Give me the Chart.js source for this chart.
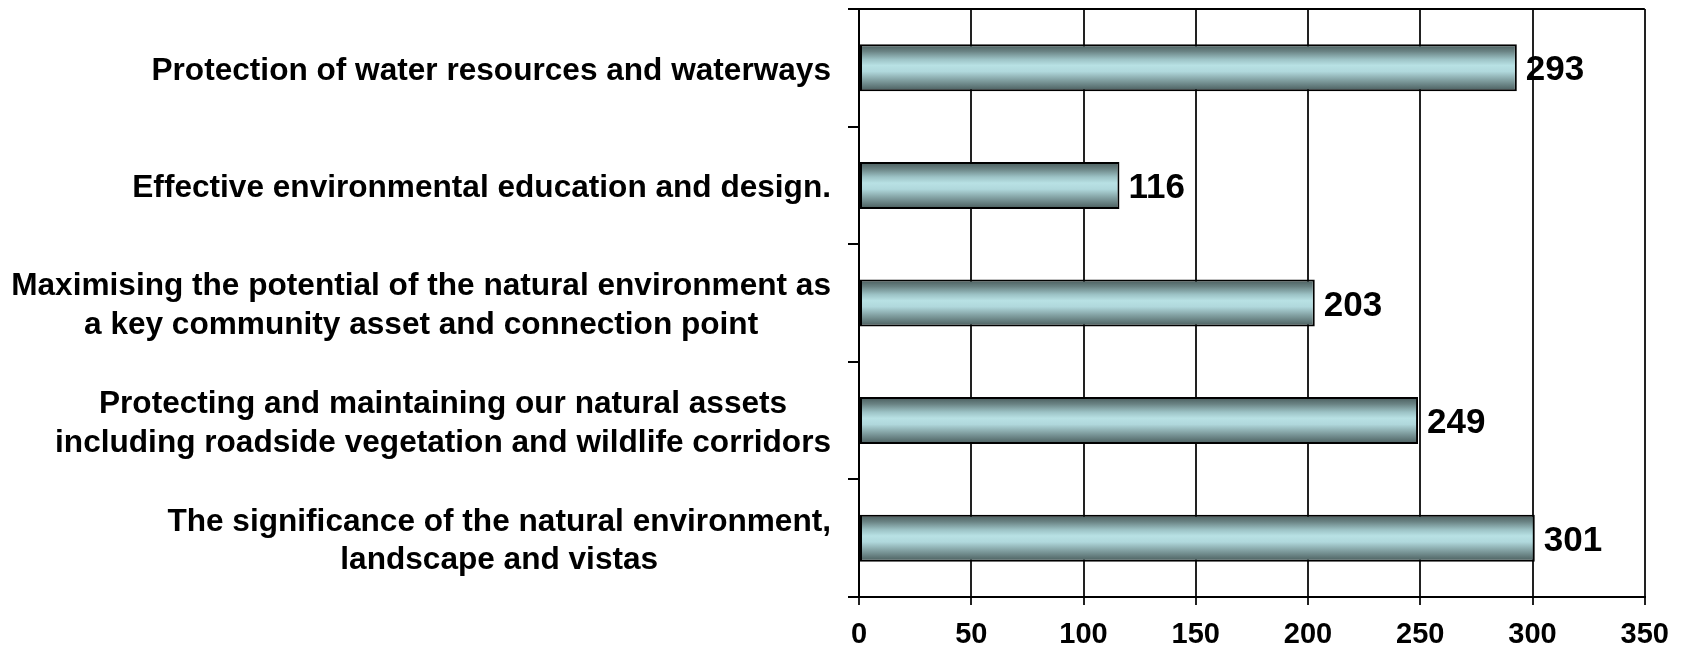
<!DOCTYPE html>
<html>
<head>
<meta charset="utf-8">
<script src="https://cdn.jsdelivr.net/npm/chart.js@4.4.1/dist/chart.umd.min.js"></script>
<style>
  html, body { margin: 0; padding: 0; background: #ffffff; }
  #wrap { width: 1682px; height: 650px; }
</style>
</head>
<body>
<div id="wrap"><canvas id="c" width="1682" height="650"></canvas></div>
<script>
const categories = [
  ["Protection of water resources and waterways"],
  ["Effective environmental education and design."],
  ["Maximising the potential of the natural environment as", "a key community asset and connection point"],
  ["Protecting and maintaining our natural assets", "including roadside vegetation and wildlife corridors"],
  ["The significance of the natural environment,", "landscape and vistas"]
];
const values = [293, 116, 203, 249, 301];
const xTicks = [0, 50, 100, 150, 200, 250, 300, 350];

const FONT = "'Liberation Sans', Arial, Helvetica, sans-serif";

function barGradient(ctx) {
  const chart = ctx.chart;
  const ys = chart.scales.y;
  if (!chart.chartArea || !ys || ctx.dataIndex === undefined) return '#b5dfe2';
  const center = ys.getPixelForValue(ctx.dataIndex);
  const half = (ys.height / categories.length) * 0.4 / 2;
  const g = chart.ctx.createLinearGradient(0, center - half, 0, center + half);
  g.addColorStop(0.00, '#475a5a');
  g.addColorStop(0.15, '#6a8384');
  g.addColorStop(0.32, '#9cc2c5');
  g.addColorStop(0.45, '#b8e1e4');
  g.addColorStop(0.58, '#b0d8dc');
  g.addColorStop(0.75, '#85a4a6');
  g.addColorStop(1.00, '#475a5a');
  return g;
}

const labelBlockAlign = {
  id: 'labelBlockAlign',
  beforeDraw(chart) {
    const s = chart.scales.y;
    const items = s.getLabelItems();
    const c = chart.ctx;
    c.save();
    items.forEach(item => {
      if (item._blockDone) return;
      c.font = item.font.string;
      const lines = Array.isArray(item.label) ? item.label : [item.label];
      let w = 0;
      lines.forEach(l => { w = Math.max(w, c.measureText(l).width); });
      item.options.textAlign = 'center';
      item.options.translation = [item.options.translation[0] - w / 2, item.options.translation[1] + 3];
      item._blockDone = true;
    });
    c.restore();
  }
};

const frameAndLabels = {
  id: 'frameAndLabels',
  afterDatasetsDraw(chart) {
    const c = chart.ctx;
    const a = chart.chartArea;
    c.save();
    c.strokeStyle = '#000';
    c.lineWidth = 2;
    c.beginPath();
    c.moveTo(a.left - 11, a.top);
    c.lineTo(a.right, a.top);
    c.stroke();
    const meta = chart.getDatasetMeta(0);
    c.fillStyle = '#000';
    c.font = 'bold 35px ' + FONT;
    c.textAlign = 'left';
    c.textBaseline = 'middle';
    meta.data.forEach((bar, i) => {
      c.fillText(String(values[i]), bar.x + 9, bar.y + 3);
    });
    c.restore();
  }
};

new Chart(document.getElementById('c'), {
  type: 'bar',
  data: {
    labels: categories,
    datasets: [{
      data: values,
      backgroundColor: barGradient,
      borderColor: '#000',
      borderWidth: 2,
      borderSkipped: false,
      categoryPercentage: 0.8,
      barPercentage: 0.5
    }]
  },
  options: {
    indexAxis: 'y',
    responsive: false,
    animation: false,
    layout: { padding: { top: 9, right: 37, bottom: 0, left: 0 } },
    plugins: { legend: { display: false }, tooltip: { enabled: false } },
    scales: {
      x: {
        min: 0, max: 350,
        afterBuildTicks(scale) { scale.ticks = xTicks.map(v => ({ value: v })); },
        afterFit(scale) { scale.height = 53; },
        ticks: {
          color: '#000',
          font: { family: FONT, size: 29, weight: 'bold' },
          padding: 13,
          maxRotation: 0
        },
        grid: { color: '#222', lineWidth: 2, tickLength: 8, drawTicks: true },
        border: { color: '#000', width: 2 }
      },
      y: {
        afterFit(scale) { scale.width = 859; scale.paddingTop = 0; scale.paddingBottom = 0; },
        ticks: {
          color: '#000',
          font: { family: FONT, size: 31.6, weight: 'bold', lineHeight: 1.22 },
          padding: 17
        },
        grid: { drawOnChartArea: false, drawTicks: true, tickLength: 11, color: '#000', lineWidth: 2, offset: true },
        border: { color: '#000', width: 2 }
      }
    }
  },
  plugins: [labelBlockAlign, frameAndLabels]
});
</script>
</body>
</html>
